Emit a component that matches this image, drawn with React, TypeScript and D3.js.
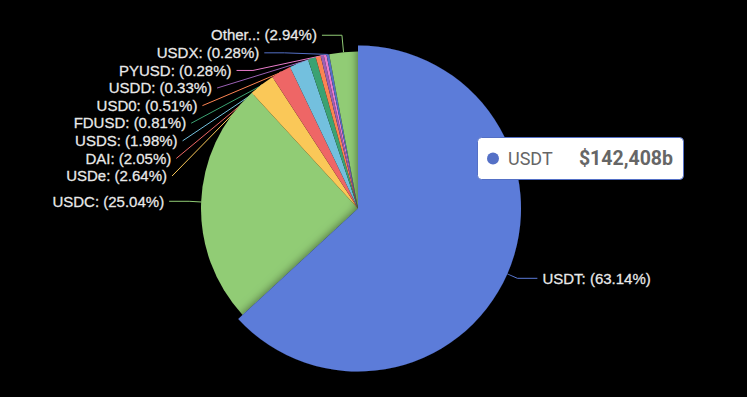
import React from 'react';
import * as d3 from 'd3';

// stablecoin shares (%)
const coins = ['USDT', 'USDC', 'USDe', 'DAI', 'USDS', 'FDUSD', 'USD0', 'USDD', 'PYUSD', 'USDX', 'Other..'];
const shares = [63.14, 25.04, 2.64, 2.05, 1.98, 0.81, 0.51, 0.33, 0.28, 0.28, 2.94];
const palette = ['#5c7bd9', '#91cc75', '#fac858', '#ee6666', '#73c0de', '#3ba272', '#fc8452', '#9a60b4', '#ea7ccc', '#5470c6', '#91cc75'];

const hovered = 'USDT';
const hoveredValue = '$142,408b';

const W = 747, H = 397;
const cx = 358, cy = 208.5;
const radius = 157, radiusHover = 163;
const lineLen = 17, lineLen2 = 20, labelDist = 5, labelStep = 17.6;

type Pt = [number, number];
type Slice = d3.PieArcDatum<number> & { name: string; color: string };

// project p onto line a-b, returns [projected point, distance]
function project(a: Pt, b: Pt, p: Pt): [Pt, number] {
    const dx = b[0] - a[0], dy = b[1] - a[1];
    const t = ((p[0] - a[0]) * dx + (p[1] - a[1]) * dy) / (dx * dx + dy * dy);
    const q: Pt = [a[0] + t * dx, a[1] + t * dy];
    return [q, Math.hypot(p[0] - q[0], p[1] - q[1])];
}

function clampOnSeg(q: Pt, p1: Pt, p2: Pt): Pt {
    const t = p2[0] !== p1[0] ? (q[0] - p1[0]) / (p2[0] - p1[0]) : (q[1] - p1[1]) / (p2[1] - p1[1]);
    if (isNaN(t)) return p1;
    if (t < 0) return p1;
    if (t > 1) return p2;
    return q;
}

// like echarts: turn angle at the elbow not below 90deg
function limitTurnAngle(pts: Pt[]) {
    const [p0, p1, p2] = pts;
    const a: Pt = [p0[0] - p1[0], p0[1] - p1[1]], b: Pt = [p2[0] - p1[0], p2[1] - p1[1]];
    const la = Math.hypot(...a), lb = Math.hypot(...b);
    if (la < 1e-3 || lb < 1e-3) return;
    const cos = (a[0] * b[0] + a[1] * b[1]) / la / lb;
    if (Math.cos(Math.PI / 2) < cos) {
        const [q] = project(p1, p2, p0);
        pts[1] = clampOnSeg(q, p1, p2);
    }
}

// first segment must not dive into the pie surface
function limitSurfaceAngle(pts: Pt[], normal: Pt) {
    const [p0, p1, p2] = pts;
    const d1: Pt = [p1[0] - p0[0], p1[1] - p0[1]], d2: Pt = [p2[0] - p1[0], p2[1] - p1[1]];
    const l1 = Math.hypot(...d1), l2 = Math.hypot(...d2);
    if (l1 < 1e-3 || l2 < 1e-3) return;
    const u2: Pt = [d2[0] / l2, d2[1] / l2];
    const cos = (d1[0] * normal[0] + d1[1] * normal[1]) / l1;
    if (cos < Math.cos(Math.PI / 2)) {
        const [q, d] = project(p1, p2, p0);
        const angle2 = Math.acos(u2[0] * normal[0] + u2[1] * normal[1]);
        const newAngle = Math.PI / 2 + angle2 - Math.PI / 2;
        let np: Pt;
        if (newAngle >= Math.PI / 2) np = p2;
        else {
            const k = d / Math.tan(Math.PI / 2 - newAngle);
            np = clampOnSeg([q[0] + u2[0] * k, q[1] + u2[1] * k], p1, p2);
        }
        pts[1] = np;
    }
}

function layoutLabels(arcs: Slice[]) {
    const rA = radius + lineLen;
    const items = arcs.map((a) => {
        const mid = (a.startAngle + a.endAngle) / 2;
        const sx = Math.sin(mid), sy = -Math.cos(mid);
        const r0 = a.name === hovered ? radiusHover : radius;
        const dir = sx < 0 ? -1 : 1;
        const x2 = cx + rA * sx;
        return {
            arc: a, dir, normal: [sx, sy] as Pt,
            p0: [cx + r0 * sx, cy + r0 * sy] as Pt,
            x: x2 + dir * (lineLen2 + labelDist),
            y: cy + rA * sy,
        };
    });
    [-1, 1].forEach((dir) => {
        const side = items.filter((d) => d.dir === dir).sort((a, b) => a.y - b.y);
        if (side.length < 2) return;
        let last = -Infinity, moved = false;
        side.forEach((d) => {
            if (d.y < last + labelStep) { d.y = last + labelStep; moved = true; }
            last = d.y;
        });
        if (!moved) return;
        [side.filter((d) => d.y <= cy), side.filter((d) => d.y > cy)].forEach((semi) => {
            if (!semi.length) return;
            let maxDy = -1, rB = rA;
            semi.forEach((d) => {
                const dy = Math.abs(d.y - cy);
                if (dy >= maxDy) {
                    const dx = d.x - cx - lineLen2 * dir;
                    rB = Math.abs(dx) < rA ? Math.sqrt(dy * dy / (1 - dx * dx / rA / rA)) : rA;
                    maxDy = dy;
                }
            });
            semi.forEach((d) => {
                const dy = Math.abs(d.y - cy);
                const dx = Math.sqrt(Math.max(0, 1 - dy * dy / rB / rB)) * rA;
                d.x = cx + (dx + lineLen2) * dir;
            });
        });
    });
    return items.map((d) => {
        const p2: Pt = [d.x - d.dir * labelDist, d.y];
        const pts: Pt[] = [d.p0, [p2[0] - d.dir * lineLen2, d.y], p2];
        limitTurnAngle(pts);
        limitSurfaceAngle(pts, d.normal);
        return { ...d, pts };
    });
}

export default function App() {
    const pie = d3.pie<number>().sort(null).value((d) => d);
    const arcs: Slice[] = pie(shares).map((a, i) => ({ ...a, name: coins[i], color: palette[i] }));
    const arc = d3.arc<Slice>().innerRadius(0);
    const labels = layoutLabels(arcs);
    const line = d3.line();
    const font = '"Liberation Sans", Arial, sans-serif';

    return (
        <svg width={W} height={H} style={{ position: 'absolute', left: 0, top: 0, background: '#000' }}>
            <defs>
                <filter id="shadow" x="-20%" y="-20%" width="140%" height="140%">
                    <feDropShadow dx="0" dy="0" stdDeviation="5" floodColor="#000" floodOpacity="0.55" />
                </filter>
            </defs>
            <rect width={W} height={H} fill="#000" />
            {/* label lines sit under the pie */}
            <g fill="none" strokeWidth={1}>
                {labels.map((l) => (
                    <path key={l.arc.name} d={line(l.pts) || ''} stroke={l.arc.color} />
                ))}
            </g>
            <g transform={`translate(${cx},${cy})`}>
                {arcs.filter((a) => a.name !== hovered).map((a) => (
                    <path key={a.name} d={arc.outerRadius(radius)(a) || ''} fill={a.color} />
                ))}
                {arcs.filter((a) => a.name === hovered).map((a) => (
                    <path key={a.name} d={arc.outerRadius(radiusHover)(a) || ''} fill={a.color} filter="url(#shadow)" />
                ))}
            </g>
            <g fontFamily={font} fontSize={15} fill="#eeeeee" stroke="#dddddd" strokeWidth={0.3}>
                {labels.map((l) => (
                    <text key={l.arc.name} x={l.x} y={l.y} dy="0.35em" textAnchor={l.dir < 0 ? 'end' : 'start'}>
                        {`${l.arc.name}: (${l.arc.data.toFixed(2)}%)`}
                    </text>
                ))}
            </g>
            {/* tooltip for hovered slice */}
            <g transform="translate(477,137)">
                <rect x={0.5} y={0.5} width={206} height={42} rx={4} fill="#fff" stroke="#5470c6" strokeWidth={1} />
                <circle cx={16} cy={21.5} r={6} fill="#5470c6" />
                <text x={31} y={21.5} dy="0.35em" fontFamily="Roboto, sans-serif" fontSize={18} fill="#666">{hovered}</text>
                <text x={196} y={21.5} dy="0.35em" textAnchor="end" fontFamily="Roboto, sans-serif" fontSize={19.5}
                    fontWeight="bold" fill="#666">{hoveredValue}</text>
            </g>
        </svg>
    );
}
